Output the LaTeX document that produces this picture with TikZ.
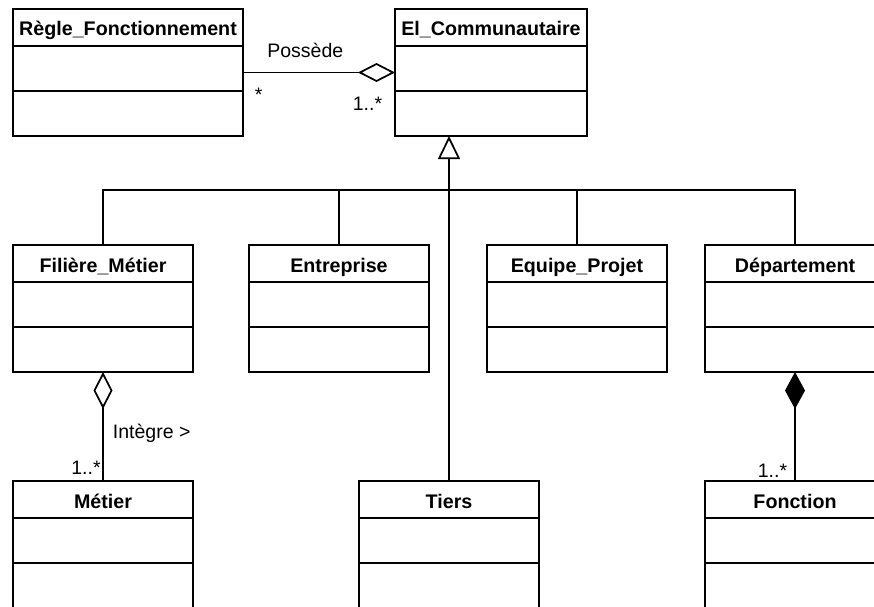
\documentclass[tikz,border=0pt]{standalone}
\usepackage{fontspec}
\setmainfont{Liberation Sans}
\usetikzlibrary{
    arrows.meta,
    positioning,
    calc
}
\tikzstyle{umlclass} = [
    rectangle,
    draw=black,
    line width=0.45mm,
    minimum width=36mm,
    minimum height=25.4mm,
    inner sep=0pt,
    outer sep=0pt
]
\tikzstyle{classname} = [
    anchor=base,
    font=\fontsize{11.2pt}{13pt}\selectfont\bfseries
]
\tikzstyle{compart} = [
    line width=0.35mm
]
\tikzstyle{rolename} = [
    inner sep=0pt,
    font=\fontsize{11.1pt}{13pt}\selectfont
]
\tikzstyle{branch} = [
    line width=0.35mm
]
\tikzstyle{assoc} = [
    line width=0.35mm,
    -{Diamond[open, length=7.4mm, width=3.8mm]}
]
\tikzstyle{compos} = [
    line width=0.35mm,
    -{Diamond[length=7.4mm, width=4mm]}
]
\tikzstyle{inherit} = [
    line width=0.35mm,
    -{Triangle[open, length=4.6mm, width=4.4mm]}
]

\begin{document}
\begin{tikzpicture}[x=0.2mm, y=-0.2mm]
        \useasboundingbox (0,0) rectangle (874,607);
        \clip (0,0) rectangle (874,607);

        % Top row
        \node[umlclass, minimum width=46mm, anchor=north west] (regle) at (13,9) {};
        \node[umlclass, minimum width=38.4mm, right=30.4mm of regle] (elcomm) {};

        % Subclasses
        \node[umlclass, anchor=north west] (filiere) at (13,245) {};
        \node[umlclass, right=11.2mm of filiere] (entreprise) {};
        \node[umlclass, right=11.6mm of entreprise] (equipe) {};
        \node[umlclass, right=7.6mm of equipe] (depart) {};

        % Bottom row
        \node[umlclass, minimum height=30mm, below=21.8mm of filiere] (metier) {};
        \node[umlclass, minimum height=30mm, right=33.2mm of metier] (tiers) {};
        \node[umlclass, minimum height=30mm, below=21.8mm of depart] (fonction) {};

        % Names and compartments
        \foreach \c/\t in {regle/Règle\_Fonctionnement, elcomm/El\_Communautaire,
                filiere/Filière\_Métier, entreprise/Entreprise, equipe/Equipe\_Projet,
                depart/Département, metier/Métier, tiers/Tiers, fonction/Fonction} {
            \node[classname] (\c-t) at ($(\c.north)+(0,27)$) {\t};
            \draw[compart] ($(\c.north west)+(0,37)$) -- ($(\c.north east)+(0,37)$);
            \draw[compart] ($(\c.north west)+(0,82)$) -- ($(\c.north east)+(0,82)$);
        }

        % Possede association
        \draw[assoc] (regle) -- (elcomm)
            node[rolename, pos=0.41, anchor=base, yshift=3mm] (possede) {Possède}
            node[rolename, pos=0, anchor=base west, xshift=2.2mm, yshift=-5.8mm] (regle-m) {*}
            node[rolename, pos=1, anchor=base east, xshift=-2.4mm, yshift=-7.6mm] (elcomm-m) {1..*};

        % Generalisation
        \coordinate (hub) at ($(tiers |- elcomm.south)+(0,54)$);
        \draw[inherit] (tiers) -- (tiers |- elcomm.south);
        \draw[branch] (filiere) |- (hub) -| (depart);
        \draw[branch] (entreprise) -- (entreprise |- hub);
        \draw[branch] (equipe) -- (equipe |- hub);

        % Integre aggregation
        \draw[assoc] (metier) -- (filiere)
            node[rolename, pos=0.44, anchor=west, xshift=1.8mm] (integre) {Intègre >}
            node[rolename, pos=0, anchor=base east, xshift=-0.3mm, yshift=1.4mm] (metier-m) {1..*};

        % Fonction composition
        \draw[compos] (fonction) -- (depart)
            node[rolename, pos=0, anchor=base east, xshift=-1.4mm, yshift=0.8mm] (fonction-m) {1..*};
    \end{tikzpicture}
\end{document}
